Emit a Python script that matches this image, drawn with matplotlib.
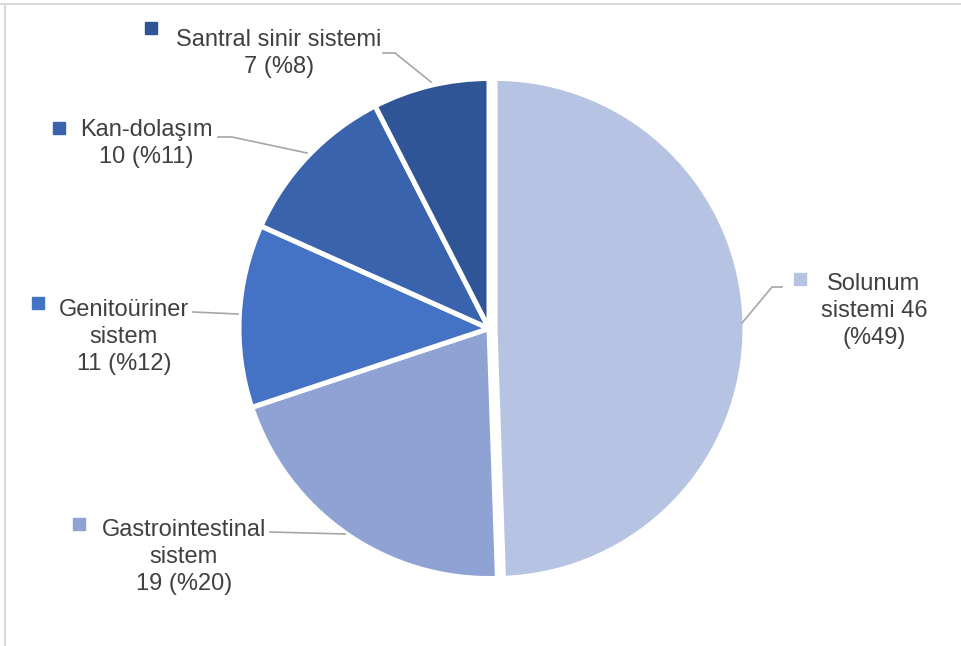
import matplotlib.pyplot as plt
from matplotlib.lines import Line2D

plt.rcParams['font.family'] = ['Liberation Sans', 'DejaVu Sans']

# data
categories = ["Solunum sistemi", "Gastrointestinal sistem", "Genitoüriner sistem",
              "Kan-dolaşım", "Santral sinir sistemi"]
counts = [46, 19, 11, 10, 7]
# how each label is wrapped in the chart
label_names = ["Solunum\nsistemi", "Gastrointestinal\nsistem", "Genitoüriner\nsistem",
               "Kan-dolaşım", "Santral sinir sistemi"]
colors = ["#B7C3E2", "#8FA2D4", "#4472C4", "#3A63AD", "#2F5597"]

W, H = 962, 646
fig = plt.figure(figsize=(W / 100, H / 100), dpi=100)
ax = fig.add_axes([0, 0, 1, 1])

# explode is in data units here (axes use pixel-like units)
wedges, _ = ax.pie(counts, colors=colors, startangle=90, counterclock=False,
                   center=(489, H - 328.5), radius=250,
                   explode=[6, 0, 0, 0, 0],
                   wedgeprops=dict(edgecolor="white", linewidth=3.6))
ax.set_xlim(0, W)
ax.set_ylim(0, H)
ax.set_aspect("equal")
ax.axis("off")

total = sum(counts)
# label layout (image pixel coords): text x, last baseline y, square x, square y
layout = [
    (874, 344, 800, 279),
    (184, 590, 79, 524),
    (124, 370, 38, 303),
    (146, 163, 59, 128),
    (279, 73, 151, 28),
]
# leader lines (image pixel coords)
leaders = [
    [(782, 287), (772, 287), (742, 323)],
    [(270, 532), (345, 534)],
    [(193, 312), (238, 314)],
    [(218, 137), (232, 137), (307, 153)],
    [(383, 53), (395, 53), (431, 82)],
]

for i, (name, v) in enumerate(zip(label_names, counts)):
    pct = round(v / total * 100)
    if i == 0:
        txt = f"{name} {v}\n(%{pct})"
    else:
        txt = f"{name}\n{v} (%{pct})"
    tx, ty, sx, sy = layout[i]
    ax.text(tx, H - ty, txt, ha="center", va="baseline", multialignment="center",
            fontsize=17, color="#404040", linespacing=1.3)
    ax.plot(sx, H - sy, marker="s", markersize=9, color=colors[i], linestyle="none")
    pts = leaders[i]
    ax.plot([p[0] for p in pts], [H - p[1] for p in pts], color="#A6A6A6", linewidth=1.2)

# chart frame (only top and left edges are visible)
fig.add_artist(Line2D([0, 1], [1 - 4 / H, 1 - 4 / H], transform=fig.transFigure,
                      color="#D9D9D9", linewidth=1.5))
fig.add_artist(Line2D([5 / W, 5 / W], [0, 1 - 4 / H], transform=fig.transFigure,
                      color="#D9D9D9", linewidth=1.5))

fig.savefig("out.png", dpi=100, facecolor="white")
